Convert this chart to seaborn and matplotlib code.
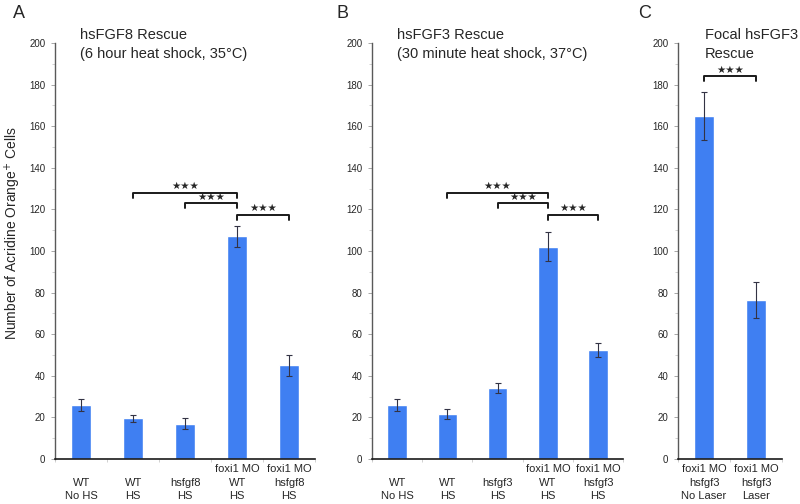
import numpy as np
import pandas as pd
import matplotlib
matplotlib.use("Agg")
import matplotlib.pyplot as plt
import seaborn as sns

sns.set_theme(style="white")
plt.rcParams['font.family'] = ['Liberation Sans', 'DejaVu Sans']

# Panel A
a_labels = ["WT\nNo HS", "WT\nHS", "hsfgf8\nHS", "foxi1 MO\nWT\nHS", "foxi1 MO\nhsfgf8\nHS"]
a_means = [26, 19.5, 17, 107, 45]
a_err = [3, 1.5, 2.5, 5, 5]
a_title = "hsFGF8 Rescue\n(6 hour heat shock, 35°C)"

# Panel B
b_labels = ["WT\nNo HS", "WT\nHS", "hsfgf3\nHS", "foxi1 MO\nWT\nHS", "foxi1 MO\nhsfgf3\nHS"]
b_means = [26, 21.5, 34, 102, 52.5]
b_err = [3, 2.5, 2.5, 7, 3.5]
b_title = "hsFGF3 Rescue\n(30 minute heat shock, 37°C)"

# Panel C
c_labels = ["foxi1 MO\nhsfgf3\nNo Laser", "foxi1 MO\nhsfgf3\nLaser"]
c_means = [165, 76.5]
c_err = [11.5, 8.5]
c_title = "Focal hsFGF3\nRescue"

# significance brackets: (left bar, right bar, height)
ab_brackets = [(1, 3, 128), (2, 3, 123), (3, 4, 117.5)]
c_brackets = [(0, 1, 184)]

BAR = "#3f7ff2"


def panel(ax, labels, means, err, title, brackets, letter, letter_x, title_x):
    df = pd.DataFrame({"group": labels, "count": means})
    sns.barplot(data=df, x="group", y="count", color=BAR, width=0.39,
                saturation=1, ax=ax, errorbar=None)
    ax.errorbar(np.arange(len(means)), means, yerr=err, fmt="none",
                ecolor="#333344", elinewidth=0.8, capsize=2.2, capthick=0.8)
    ax.set_xlim(-0.5, len(means) - 0.5)
    ax.set_ylim(0, 200)
    ax.set_yticks(np.arange(0, 201, 20))
    ax.set_yticks(np.arange(10, 200, 20), minor=True)
    ax.tick_params(axis="y", which="major", direction="out", length=3,
                   width=0.6, color="0.6", labelsize=7, pad=4, left=True)
    ax.tick_params(axis="y", which="minor", direction="out", length=2,
                   width=0.5, color="0.75", left=True)
    # category labels at centres, tick marks at boundaries
    ax.set_xticks(np.arange(len(means)))
    ax.set_xticklabels(labels, fontsize=8, linespacing=1.4)
    ax.set_xticks(np.arange(len(means) + 1) - 0.5, minor=True)
    ax.tick_params(axis="x", which="major", length=0, pad=5)
    ax.tick_params(axis="x", which="minor", direction="out", length=2,
                   width=0.5, color="0.75", bottom=True)
    # bottom-align the multi-line category labels
    for lab in ax.get_xticklabels():
        lab.set_va("bottom")
        lab.set_y(-0.084)
    ax.set_xlabel("")
    ax.set_ylabel("")
    sns.despine(ax=ax)
    ax.spines["left"].set_color("0.35")
    ax.spines["left"].set_linewidth(1.0)
    ax.spines["bottom"].set_color("0.1")
    ax.spines["bottom"].set_linewidth(1.2)
    for x1, x2, h in brackets:
        ax.plot([x1, x1, x2, x2], [h - 2.4, h, h, h - 2.4], color="0.1", lw=1.4,
                clip_on=False)
        ax.text((x1 + x2) / 2, h + 0.8, "\u2605\u2605\u2605", ha="center",
                va="bottom", fontsize=7.5, family=["DejaVu Sans"])
    ax.text(title_x, 1.037, title, transform=ax.transAxes, ha="left", va="top",
            fontsize=10.5, linespacing=1.45)
    ax.figure.text(letter_x, 0.99, letter, fontsize=13, ha="left", va="top")


fig = plt.figure(figsize=(8, 5.04), dpi=100)
ax_a = fig.add_axes([0.069, 0.0893, 0.325, 0.8254])
ax_b = fig.add_axes([0.465, 0.0893, 0.314, 0.8254])
ax_c = fig.add_axes([0.8475, 0.0893, 0.13, 0.8254])

panel(ax_a, a_labels, a_means, a_err, a_title, ab_brackets, "A", 0.016, 0.096)
panel(ax_b, b_labels, b_means, b_err, b_title, ab_brackets, "B", 0.421, 0.1)
panel(ax_c, c_labels, c_means, c_err, c_title, c_brackets, "C", 0.7975, 0.26)

fig.text(0.016, 0.538, "Number of Acridine Orange$^{+}$ Cells", rotation=90,
         ha="center", va="center", fontsize=10)

fig.savefig("out.png", dpi=100)
